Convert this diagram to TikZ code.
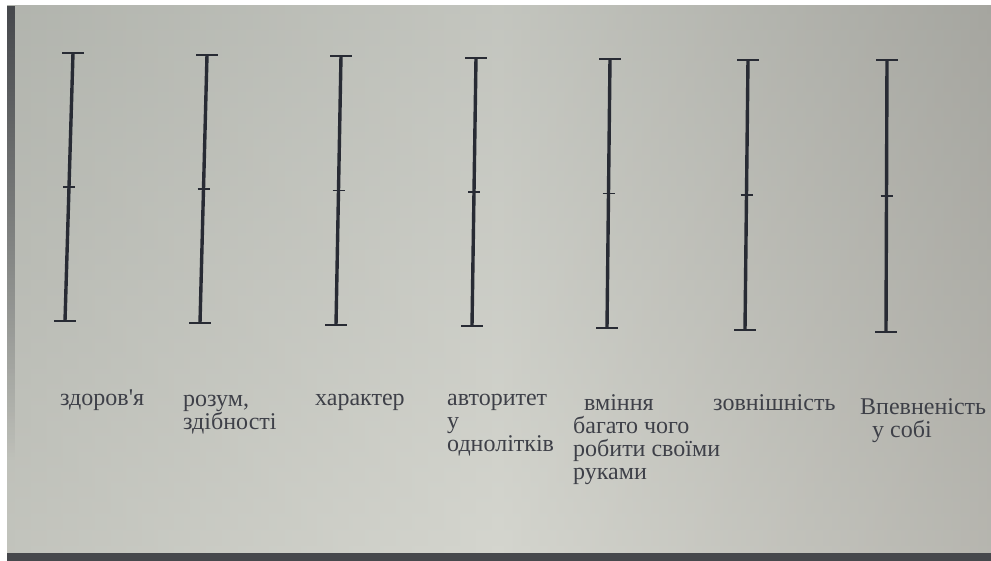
\documentclass[tikz,border=0pt]{standalone}
\usepackage{fontspec}
\setmainfont{Liberation Serif}
\newfontfamily\lblfont{Liberation Serif}
\usetikzlibrary{calc,fadings}
\definecolor{bgL}{RGB}{180,182,175}
\definecolor{bgM}{RGB}{212,213,206}
\definecolor{bgR}{RGB}{158,156,150}
\definecolor{bgT}{RGB}{175,178,172}
\definecolor{edge}{RGB}{70,72,76}
\definecolor{ink}{RGB}{40,43,52}
\definecolor{txt}{RGB}{62,64,72}
\begin{document}
\begin{tikzpicture}[x=1pt,y=-1pt,
  bar/.style={draw=ink,line width=3.4pt},
  endcap/.style={draw=ink,line width=2.4pt},
  midtick/.style={draw=ink,line width=1.8pt},
  lbl/.style={text=txt,font=\lblfont\fontsize{24}{23}\selectfont,anchor=base west,inner sep=0pt,align=left}]
\useasboundingbox (0,0) rectangle (991,561);
\fill[white] (0,0) rectangle (991,561);
% background photo tones
\shade[left color=bgL,right color=bgR,middle color=bgM] (7,6) rectangle (991,553);
\shade[top color=bgT,bottom color=bgM,opacity=0.45] (7,6) rectangle (991,553);
\fill[edge,path fading=south] (7,6) rectangle (15,460);
\fill[edge] (7,553) rectangle (991,561);
% scales
\foreach \i/\xt/\yt/\xb/\yb in {1/73/53/65/321, 2/207/55/200/323, 3/341/56/336/325, 4/476/58/472/326, 5/610/59/607/328, 6/748/60/745/330, 7/887/60/886/332}{
  \coordinate (t\i) at (\xt,\yt);
  \coordinate (b\i) at (\xb,\yb);
  \draw[bar] (t\i) -- (b\i);
  \draw[endcap] ($(t\i)+(-11,0)$) -- ($(t\i)+(11,0)$);
  \draw[endcap] ($(b\i)+(-11,0)$) -- ($(b\i)+(11,0)$);
  \coordinate (m\i) at ($(t\i)!0.5!(b\i)$);
  \draw[midtick] ($(m\i)+(-6,0)$) -- ($(m\i)+(6,0)$);
}
% labels (anchor = baseline of the last line)
\node[lbl] (l1) at (60,406) {здоров'я};
\node[lbl] (l2) at (183,429) {розум,\\здібності};
\node[lbl] (l3) at (315,406) {характер};
\node[lbl] (l4) at (447,451) {авторитет\\у\\однолітків};
\node[lbl] (l5) at (573,479) {\hspace{11pt}вміння\\багато чого\\робити своїми\\руками};
\node[lbl] (l6) at (713,410) {зовнішність};
\node[lbl] (l7) at (860,437) {Впевненість\\\hspace{12pt}у собі};
\end{tikzpicture}
\end{document}
